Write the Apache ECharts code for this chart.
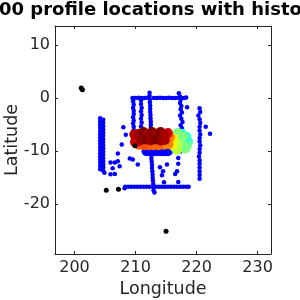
<!DOCTYPE html>
<html>
<head>
<meta charset="utf-8">
<script src="https://cdn.jsdelivr.net/npm/echarts@6/dist/echarts.min.js"></script>
<style>html,body{margin:0;padding:0;background:#fff}#c{width:300px;height:300px}</style>
</head>
<body>
<div id="c"></div>
<script>
// ---- data (lon, lat) ----
const titleText = '00 profile locations with history';
const xTicks = [200, 210, 220, 230];
const yTicks = [-20, -10, 0, 10];
const xRange = [196.8, 232.2];
const yRange = [-29.4, 13.6];

const leftColumns = [
  [204.2,-3.8],[204.2,-4.4],[204.2,-5.0],[204.2,-5.6],[204.2,-6.2],[204.2,-6.8],[204.2,-7.4],[204.2,-8.0],[204.2,-8.6],
  [204.2,-9.2],[204.2,-9.8],[204.2,-10.4],[204.2,-11.0],[204.2,-11.6],[204.2,-12.2],[204.2,-12.8],[204.2,-13.4],
  [204.7,-4.1],[204.7,-4.7],[204.7,-5.3],[204.7,-5.9],[204.7,-6.5],[204.7,-7.1],[204.7,-7.7],[204.7,-8.3],[204.7,-8.9],
  [204.7,-9.5],[204.7,-10.1],[204.7,-10.7],[204.7,-11.3],[204.7,-11.9],[204.7,-12.5],[204.7,-13.1],[204.7,-13.7],[204.9,-14.1]
];
const longVertical = [
  [212.3,1.0],[212.3,0.4],[212.35,-0.2],[212.35,-0.8],[212.4,-1.4],[212.4,-2.0],[212.4,-2.6],[212.45,-3.2],[212.45,-3.8],
  [212.5,-4.4],[212.5,-5.0],[212.5,-5.6],[212.6,-10.8],[212.6,-11.4],[212.65,-12.0],[212.7,-12.6],[212.7,-13.2],
  [212.75,-13.8],[212.8,-14.4],[212.8,-15.0],[212.85,-15.6],[212.9,-16.2],[212.9,-16.8],[212.95,-17.4],[213.1,-17.8]
];
const topRow = [
  [209.5,0.0],[210.0,0.0],[210.5,0.05],[211.0,0.0],[211.5,0.0],[212.0,0.05],[213.0,0.0],[213.5,0.0],[214.0,0.05],
  [214.5,0.0],[215.0,0.0],[215.5,0.05],[216.0,0.0],[216.5,0.0],[217.0,0.05],[217.5,0.0],[218.0,0.0],[218.3,0.1]
];
const bottomRow = [
  [208.2,-17.0],[208.3,-16.7],[208.8,-16.7],[209.3,-16.7],[209.8,-16.7],[210.3,-16.7],[210.8,-16.7],[211.3,-16.7],
  [211.8,-16.7],[212.3,-16.7],[213.3,-16.7],[213.8,-16.7],[214.3,-16.7],[214.8,-16.7],[215.3,-16.7],[215.8,-16.7],
  [216.3,-16.7],[216.8,-16.7],[217.3,-16.7],[217.8,-16.7],[218.3,-16.7],[218.7,-16.7]
];
const innerColumns = [
  [209.7,0.0],[209.6,-0.6],[209.7,-1.2],[209.6,-1.8],[209.7,-2.4],[209.7,-3.0],[209.6,-3.6],[209.7,-4.2],[209.6,-4.8],
  [209.7,-5.4],[209.7,-6.0],[209.6,-6.6],[209.7,-7.2],[209.7,-7.8],
  [210.9,-0.4],[210.9,-1.1],[211.0,-1.8],[210.9,-2.5],[211.0,-3.2],[210.9,-3.9],[211.0,-4.6],[210.9,-5.3]
];
const rightColumn = [
  [217.1,0.9],[217.3,0.3],[217.4,-0.3],[217.3,-0.9],[217.5,-1.5],[217.4,-2.1],[217.6,-2.7],[217.3,-3.3],[217.5,-3.9],
  [217.7,-4.5],[217.4,-5.1],[217.6,-5.7],[217.5,-6.3],[218.45,-1.7],
  [217.3,-10.1],[217.0,-11.3],[217.0,-12.4],[216.8,-13.8],[216.5,-14.3],[217.0,-15.8]
];
const farRightColumn = [
  [220.5,-1.9],[220.6,-2.6],[220.3,-3.3],[220.5,-4.0],[220.6,-4.7],[220.5,-5.4],[220.5,-6.1],[220.6,-6.8],[220.5,-7.5],
  [220.5,-8.2],[220.6,-8.9],[220.5,-9.6],[220.5,-10.3],[220.4,-11.0],[220.5,-11.7],[220.5,-12.4],[220.5,-13.1],
  [220.5,-13.8],[220.5,-14.5],[220.5,-15.2],[221.5,-5.4],[222.2,-6.7]
];
const scatteredBlue = [
  [208.4,-6.9],[207.74,-8.77],[207.1,-10.45],[205.9,-12.13],[206.6,-12.13],[207.1,-11.9],[206.25,-13.24],
  [207.4,-12.87],[205.9,-14.36],[206.6,-14.3],[209.06,-11.4],[209.55,-11.57],[210.37,-12.5],[208.0,-5.5],
  [214.0,-13.06],[214.5,-13.8],[215.15,-12.5],[214.33,-14.55],[214.66,-15.85]
];
const blackPoints = [
  [201.1,1.9],[201.3,1.6],[205.2,-17.4],[207.2,-17.2],[215.0,-25.1],[209.9,-9.0]
];
// cluster: lon, lat, colour value (0 = dark blue ... 1 = dark red)
const clusterLon = [
  211.8,212.4,213.0,213.6,214.2,214.8,215.3,
  218.6,218.4,218.3,217.6,216.9,217.8,217.2,217.0,216.6,216.4,217.8,218.2,216.8,
  216.0,216.0,
  215.4,214.6,213.8,213.0,212.2,211.4,210.6,215.6,
  210.0,215.3,210.3,209.9,209.8,
  210.6,211.3,212.0,212.7,213.4,214.1,214.8,
  210.9,211.7,212.5,213.3,214.1,214.8
];
const clusterLat = [
  -10.0,-10.0,-10.0,-10.0,-10.0,-10.0,-10.0,
  -8.2,-9.0,-7.3,-6.7,-6.6,-9.3,-8.4,-9.4,-7.6,-9.2,-7.2,-9.5,-9.8,
  -8.8,-7.6,
  -8.7,-8.8,-8.9,-8.9,-8.9,-8.9,-8.8,-7.4,
  -7.3,-6.6,-8.2,-8.3,-6.8,
  -6.7,-6.4,-6.8,-6.4,-6.7,-6.4,-6.8,
  -7.9,-7.8,-8.0,-7.8,-8.0,-7.9
];
const clusterVal = [
  0.125,0.125,0.125,0.125,0.125,0.125,0.125,
  0.44,0.48,0.42,0.42,0.5,0.52,0.53,0.55,0.57,0.58,0.5,0.5,0.56,
  0.63,0.65,
  0.75,0.75,0.78,0.78,0.78,0.8,0.8,0.75,
  0.88,0.9,0.9,0.92,0.95,
  0.97,1.0,0.96,1.0,0.97,1.0,0.96,
  0.98,1.0,0.97,1.0,0.98,0.96
];

const bluePoints = [].concat(leftColumns, longVertical, topRow, bottomRow, innerColumns, rightColumn, farRightColumn, scatteredBlue);
const clusterData = clusterLon.map((v, i) => [v, clusterLat[i], clusterVal[i]]);

const TXT = '#262626';
const font = 'DejaVu Sans';
const chart = echarts.init(document.getElementById('c'), null, {renderer: 'canvas'});

function axisBase(extra) {
  return Object.assign({
    type: 'value',
    scale: true,
    axisLine: {show: true, onZero: false, lineStyle: {color: TXT, width: 1}},
    splitLine: {show: false},
  }, extra);
}

chart.setOption({
  animation: false,
  backgroundColor: '#fff',
  grid: {left: 55, right: 29, top: 26, bottom: 46, show: false, containLabel: false, outerBoundsMode: 'none'},
  graphic: [{
    type: 'text', left: -1, top: 1,
    style: {text: titleText, fill: '#000', font: 'bold 18px "DejaVu Sans"'}
  }],
  xAxis: [
    axisBase({
      min: xRange[0], max: xRange[1], position: 'bottom',
      name: 'Longitude', nameLocation: 'middle', nameGap: 26, nameMoveOverlap: false,
      nameTextStyle: {color: TXT, fontFamily: font, fontSize: 17.5},
      axisTick: {show: true, inside: true, length: 3, customValues: xTicks, lineStyle: {color: TXT}},
      axisLabel: {show: true, margin: 6, customValues: xTicks, color: TXT, fontFamily: font, fontSize: 16}
    }),
    axisBase({
      min: xRange[0], max: xRange[1], position: 'top',
      axisTick: {show: true, inside: true, length: 3, customValues: xTicks, lineStyle: {color: TXT}},
      axisLabel: {show: false}
    })
  ],
  yAxis: [
    axisBase({
      min: yRange[0], max: yRange[1], position: 'left',
      name: 'Latitude', nameLocation: 'middle', nameGap: 34, nameMoveOverlap: false,
      nameTextStyle: {color: TXT, fontFamily: font, fontSize: 17.5},
      axisTick: {show: true, inside: true, length: 3, customValues: yTicks, lineStyle: {color: TXT}},
      axisLabel: {show: true, margin: 5, customValues: yTicks, color: TXT, fontFamily: font, fontSize: 16}
    }),
    axisBase({
      min: yRange[0], max: yRange[1], position: 'right',
      axisTick: {show: true, inside: true, length: 3, customValues: yTicks, lineStyle: {color: TXT}},
      axisLabel: {show: false}
    })
  ],
  visualMap: {
    show: false, type: 'continuous', seriesIndex: 1, dimension: 2, min: 0, max: 1,
    inRange: {color: ['#00007f','#0000ff','#007fff','#00ffff','#7fff7f','#ffff00','#ff7f00','#ff0000','#7f0000']}
  },
  series: [
    {type: 'scatter', xAxisIndex: 0, yAxisIndex: 0, data: bluePoints, symbolSize: 4.5,
     itemStyle: {color: '#0000ff', opacity: 1}, silent: true},
    {type: 'scatter', xAxisIndex: 0, yAxisIndex: 0, data: clusterData, symbolSize: 10,
     itemStyle: {opacity: 1}, silent: true},
    {type: 'scatter', xAxisIndex: 0, yAxisIndex: 0, data: blackPoints, symbolSize: 5,
     itemStyle: {color: '#000', opacity: 1}, silent: true}
  ]
});
</script>
</body>
</html>
